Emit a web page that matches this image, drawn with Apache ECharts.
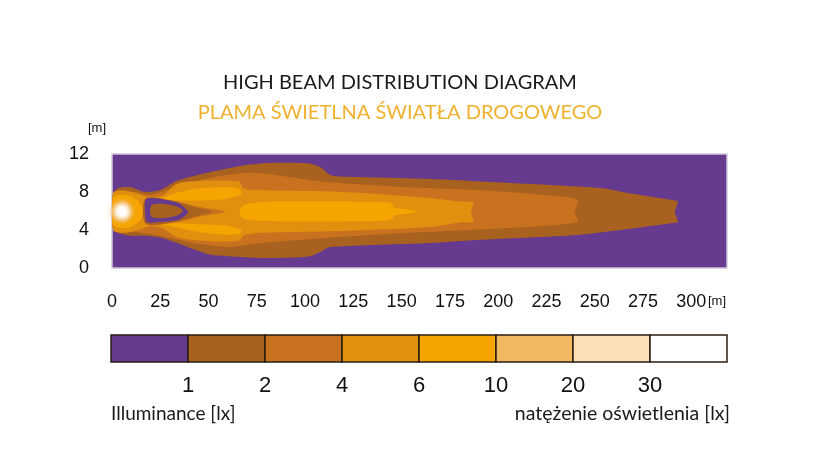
<!DOCTYPE html>
<html>
<head>
<meta charset="utf-8">
<script src="https://cdn.jsdelivr.net/npm/echarts@6/dist/echarts.min.js"></script>
<style>
html,body{margin:0;padding:0;background:#fff;}
#chart{width:835px;height:473px;}
</style>
</head>
<body>
<div id="chart"></div>
<script>
// ---- data (metres) ----
const xTicks = [0, 25, 50, 75, 100, 125, 150, 175, 200, 225, 250, 275, 300];
const yTicks = [0, 4, 8, 12];
const levelLabels = ['', '1', '2', '4', '6', '10', '20', '30', ''];
const levelColors = ['#663a8e', '#a8611e', '#c8711f', '#e08f0e', '#f6a500', '#f2b862', '#fbe0b6', '#ffffff'];

// contour >= 1 lx
const lx1 = [[0.5,7.7],[3,8.4],[10,8.5],[17,8.0],[25,8.2],[34,9.2],[51,10.1],[68,10.8],[82,11.05],[102,11.0],[108,10.6],[113,9.8],[123,9.6],[165,9.37],[206,8.95],[253,8.42],[267,7.9],[290,7.16],[293,7.0],[291.5,5.9],[293,4.85],[290,4.74],[267,4.1],[241,3.47],[189,2.95],[165,2.63],[113,2.2],[108,1.7],[102,1.2],[82,1.05],[60,1.25],[51,1.4],[42,2.0],[34,2.6],[25,3.2],[17,3.4],[9,3.4],[3,3.7],[0.5,4.1]];
// contour >= 2 lx
const lx2 = [[1.5,7.9],[12,8.0],[20,7.7],[34,8.6],[51,9.5],[68,10.0],[77,10.0],[111,9.05],[154,8.5],[189,8.2],[223,7.7],[241,7.16],[239.6,5.9],[241,4.84],[206,4.2],[154,3.7],[111,3.16],[77,2.63],[60,2.2],[43,2.6],[25,3.4],[12,3.8],[1.5,4.0]];
// contour >= 4 lx
const lx3 = [[0.5,7.9],[6,8.15],[12,7.9],[20,7.4],[26,7.6],[34,8.9],[51,9.2],[66,9.1],[68,8.4],[77,8.2],[120,8.0],[165,7.37],[180,7.0],[187,6.9],[186,5.9],[187,4.85],[180,4.8],[165,4.32],[120,3.9],[77,3.7],[68,3.4],[66,2.9],[51,2.8],[34,3.2],[26,4.2],[20,4.4],[12,3.9],[6,3.7],[0.5,4.0]];
// contour >= 6 lx (source blob and three lobes)
const lx4Source = [[0.5,7.3],[4,7.7],[9,7.6],[13,7.2],[15.5,6.5],[16,5.95],[15.5,5.3],[13,4.7],[9,4.3],[4,4.2],[0.5,4.6]];
const lx4Upper = [[25,7.2],[33,7.9],[45,8.4],[60,8.5],[66,8.3],[67,7.8],[60,7.3],[45,7.1],[33,7.1]];
const lx4Lower = [[25,4.6],[33,4.3],[45,3.8],[60,3.5],[66,3.6],[67,4.0],[60,4.45],[45,4.6],[33,4.7]];
const lx4Center = [[66,5.9],[68,6.6],[77,6.95],[100,7.0],[140,6.95],[145,6.8],[146,6.4],[152,6.2],[158,5.95],[152,5.7],[146,5.5],[145,5.1],[140,4.95],[100,4.9],[77,4.95],[68,5.2]];
// inner dip between lobes
const dip2 = [[17.5,7.2],[32.6,7.0],[45.5,6.42],[58.5,5.95],[45.5,5.4],[32.6,4.8],[17.5,4.6]];
const dip1 = [[17.3,7.3],[31,7.1],[43,6.4],[51.8,5.95],[43,5.45],[31,4.8],[17.3,4.7]];
const dip0 = [[17.6,7.26],[24.8,7.3],[34.2,6.84],[39.3,5.98],[38.3,5.58],[34.2,5.05],[24.8,4.84],[18.1,4.84],[17.1,6.0]];
const dipSpot = [[20.7,6.63],[27.4,6.74],[34.2,6.42],[36.8,6.0],[34.2,5.58],[27.4,5.26],[20.7,5.37],[19.7,6.0]];
// light source position
const source = [5.2, 5.95];

// ---- drawing ----
const layers = [
  {poly: lx1, c: 1}, {poly: lx2, c: 2}, {poly: lx3, c: 3},
  {poly: lx4Source, c: 4}, {poly: lx4Upper, c: 4}, {poly: lx4Lower, c: 4}, {poly: lx4Center, c: 4},
  {poly: dip2, c: 2}, {poly: dip1, c: 1}, {poly: dip0, c: 0}, {poly: dipSpot, c: 1}
];

const chart = echarts.init(document.getElementById('chart'));
const labelFont = 'Liberation Sans, Arial, sans-serif';
const geoFont = 'Lato, DejaVu Sans, sans-serif';

const legendCells = levelColors.map((c, i) => [i, i + 1, i]);

const option = {
  backgroundColor: '#ffffff',
  animation: false,
  grid: [
    {left: 112, right: 108, top: 154, bottom: 205, show: true, backgroundColor: levelColors[0], borderColor: '#cfc8dc', borderWidth: 1.5},
    {left: 111, right: 108, top: 335, height: 27}
  ],
  xAxis: [
    {gridIndex: 0, type: 'value', min: 0, max: 318.5, interval: 25,
     axisLine: {show: false}, axisTick: {show: false}, splitLine: {show: false},
     axisLabel: {margin: 25, fontSize: 18, color: '#111', fontFamily: labelFont}},
    {gridIndex: 1, type: 'value', min: 0, max: 8, interval: 1,
     axisLine: {show: false}, axisTick: {show: false}, splitLine: {show: false},
     axisLabel: {margin: 13, fontSize: 22, color: '#111', fontFamily: labelFont,
       formatter: v => levelLabels[v] || ''}}
  ],
  yAxis: [
    {gridIndex: 0, type: 'value', min: 0, max: 12, interval: 4,
     axisLine: {show: false}, axisTick: {show: false}, splitLine: {show: false},
     axisLabel: {margin: 23, fontSize: 18, color: '#111', fontFamily: labelFont}},
    {gridIndex: 1, type: 'value', min: 0, max: 1, show: false}
  ],
  series: [
    {
      type: 'custom', xAxisIndex: 0, yAxisIndex: 0, clip: true,
      data: layers.map((l, i) => [i]),
      renderItem: function (params, api) {
        const l = layers[params.dataIndex];
        return {type: 'polygon', shape: {points: l.poly.map(p => api.coord(p)), smooth: 0.25},
                style: {fill: levelColors[l.c], stroke: null}};
      }
    },
    {
      type: 'scatter', xAxisIndex: 0, yAxisIndex: 0, silent: true,
      data: [
        {value: source, symbolSize: 21, itemStyle: {color: levelColors[5], shadowBlur: 6, shadowColor: levelColors[5]}},
        {value: source, symbolSize: 16, itemStyle: {color: levelColors[6], shadowBlur: 5, shadowColor: levelColors[6]}},
        {value: source, symbolSize: 11, itemStyle: {color: '#ffffff', shadowBlur: 6, shadowColor: '#ffffff'}}
      ]
    },
    {
      type: 'custom', xAxisIndex: 1, yAxisIndex: 1,
      data: legendCells,
      renderItem: function (params, api) {
        const a = api.coord([api.value(0), 1]);
        const b = api.coord([api.value(1), 0]);
        return {type: 'rect', shape: {x: a[0], y: a[1], width: b[0] - a[0], height: b[1] - a[1]},
                style: {fill: levelColors[api.value(2)], stroke: '#2a1c14', lineWidth: 1.5}};
      }
    }
  ],
  graphic: [
    {type: 'text', x: 400, y: 83, style: {text: 'HIGH BEAM DISTRIBUTION DIAGRAM', font: '20px ' + geoFont, fill: '#1a1a1a', textAlign: 'center', textVerticalAlign: 'middle'}},
    {type: 'text', x: 400, y: 113, style: {text: 'PLAMA ŚWIETLNA ŚWIATŁA DROGOWEGO', font: '20px ' + geoFont, fill: '#f0b12e', textAlign: 'center', textVerticalAlign: 'middle'}},
    {type: 'text', x: 97, y: 128, style: {text: '[m]', font: '13px ' + labelFont, fill: '#111', textAlign: 'center', textVerticalAlign: 'middle'}},
    {type: 'text', x: 717, y: 301, style: {text: '[m]', font: '13px ' + labelFont, fill: '#111', textAlign: 'center', textVerticalAlign: 'middle'}},
    {type: 'text', x: 111, y: 414, style: {text: 'Illuminance [lx]', font: '19px ' + geoFont, fill: '#1a1a1a', textAlign: 'left', textVerticalAlign: 'middle'}},
    {type: 'text', x: 730, y: 414, style: {text: 'natężenie oświetlenia [lx]', font: '19.5px ' + geoFont, fill: '#1a1a1a', textAlign: 'right', textVerticalAlign: 'middle'}}
  ]
};
chart.setOption(option);
</script>
</body>
</html>
